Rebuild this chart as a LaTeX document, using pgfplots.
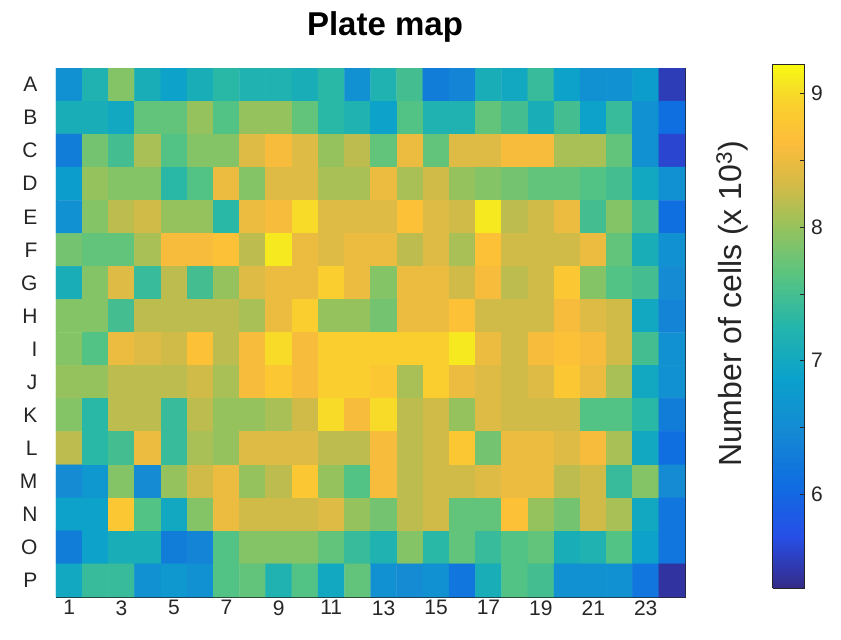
\documentclass[border=0pt]{standalone}
\usepackage{fontspec}
\setmainfont{Liberation Sans}
\usepackage{pgfplots}
\pgfplotsset{compat=1.18}
\definecolor{axgray}{rgb}{0.15,0.15,0.15}
\pgfplotsset{
  colormap={parula}{
    rgb(0pt)=(0.208,0.166,0.529)
    rgb(10pt)=(0.150,0.310,0.910)
    rgb(20pt)=(0.060,0.430,0.880)
    rgb(30pt)=(0.080,0.540,0.830)
    rgb(40pt)=(0.040,0.630,0.800)
    rgb(50pt)=(0.140,0.710,0.670)
    rgb(60pt)=(0.350,0.770,0.500)
    rgb(70pt)=(0.620,0.760,0.350)
    rgb(77pt)=(0.830,0.730,0.280)
    rgb(85pt)=(0.990,0.740,0.230)
    rgb(92pt)=(0.980,0.810,0.180)
    rgb(96pt)=(0.960,0.890,0.140)
    rgb(100pt)=(0.976,0.983,0.054)},
  every tick label/.append style={font=\fontsize{21}{25}\selectfont, text=axgray},
  /pgf/number format/assume math mode=true,
}
\begin{document}
\begin{tikzpicture}
\useasboundingbox (-56pt,-43pt) rectangle (785pt,597pt);
\begin{axis}[
  at={(0pt,0pt)}, anchor=south west,
  scale only axis, width=629pt, height=529pt,
  xmin=0.5, xmax=24.5, ymin=0.5, ymax=16.5,
  y dir=reverse,
  xtick={1,3,...,23},
  ytick={1,...,16},
  yticklabels={A,B,C,D,E,F,G,H,I,J,K,L,M,N,O,P},
  yticklabel style={xshift=-15pt},
  tick align=inside,
  major tick length=5pt,
  xtick pos=both, ytick pos=both,
  tick style={axgray, line width=0.6pt},
  axis line style={axgray, line width=0.8pt},
  colormap name=parula,
  point meta min=5.3, point meta max=9.22,
  colorbar sampled,
  colorbar style={
    samples=200,
    at={(parent axis.north east)}, anchor=north west,
    xshift=79pt, yshift=4pt,
    width=32pt, height=524pt,
    ytick={6,7,8,9}, minor ytick={6.5,7.5,8.5},
    tick align=inside,
    ytick pos=right,
    major tick length=5pt, minor tick length=5pt,
    tick style={axgray, line width=0.6pt},
    axis line style={axgray, line width=0.8pt},
    yticklabel style={xshift=3pt},
  },
]
\addplot[matrix plot*, mesh/cols=24, point meta=explicit] coordinates {
(1,1)[6.6] (2,1)[7.2] (3,1)[7.9] (4,1)[7.1] (5,1)[6.9] (6,1)[7.1] (7,1)[7.3] (8,1)[7.2] (9,1)[7.2] (10,1)[7.1] (11,1)[7.3] (12,1)[6.6] (13,1)[7.2] (14,1)[7.5] (15,1)[6.3] (16,1)[6.4] (17,1)[7.1] (18,1)[7.0] (19,1)[7.4] (20,1)[6.9] (21,1)[6.6] (22,1)[6.6] (23,1)[6.8] (24,1)[5.5]

(1,2)[7.1] (2,2)[7.1] (3,2)[7.0] (4,2)[7.7] (5,2)[7.7] (6,2)[8.0] (7,2)[7.6] (8,2)[8.0] (9,2)[8.0] (10,2)[7.7] (11,2)[7.3] (12,2)[7.2] (13,2)[6.9] (14,2)[7.6] (15,2)[7.2] (16,2)[7.2] (17,2)[7.7] (18,2)[7.5] (19,2)[7.1] (20,2)[7.5] (21,2)[6.9] (22,2)[7.4] (23,2)[6.6] (24,2)[6.1]

(1,3)[6.3] (2,3)[7.8] (3,3)[7.5] (4,3)[8.1] (5,3)[7.6] (6,3)[7.9] (7,3)[7.9] (8,3)[8.4] (9,3)[8.6] (10,3)[8.4] (11,3)[8.0] (12,3)[8.2] (13,3)[7.7] (14,3)[8.5] (15,3)[7.7] (16,3)[8.4] (17,3)[8.4] (18,3)[8.6] (19,3)[8.6] (20,3)[8.1] (21,3)[8.1] (22,3)[7.7] (23,3)[6.6] (24,3)[5.6]

(1,4)[6.8] (2,4)[8.0] (3,4)[7.9] (4,4)[7.9] (5,4)[7.3] (6,4)[7.6] (7,4)[8.5] (8,4)[7.9] (9,4)[8.4] (10,4)[8.4] (11,4)[8.1] (12,4)[8.1] (13,4)[8.5] (14,4)[8.1] (15,4)[8.3] (16,4)[8.0] (17,4)[7.9] (18,4)[7.8] (19,4)[7.7] (20,4)[7.7] (21,4)[7.6] (22,4)[7.5] (23,4)[7.0] (24,4)[6.6]

(1,5)[6.6] (2,5)[7.9] (3,5)[8.2] (4,5)[8.3] (5,5)[8.0] (6,5)[8.0] (7,5)[7.3] (8,5)[8.5] (9,5)[8.6] (10,5)[9.0] (11,5)[8.4] (12,5)[8.4] (13,5)[8.4] (14,5)[8.7] (15,5)[8.4] (16,5)[8.3] (17,5)[9.1] (18,5)[8.2] (19,5)[8.3] (20,5)[8.5] (21,5)[7.5] (22,5)[7.9] (23,5)[7.5] (24,5)[6.1]

(1,6)[7.8] (2,6)[7.7] (3,6)[7.7] (4,6)[8.1] (5,6)[8.6] (6,6)[8.6] (7,6)[8.7] (8,6)[8.2] (9,6)[9.1] (10,6)[8.5] (11,6)[8.4] (12,6)[8.5] (13,6)[8.5] (14,6)[8.2] (15,6)[8.4] (16,6)[8.1] (17,6)[8.7] (18,6)[8.3] (19,6)[8.3] (20,6)[8.3] (21,6)[8.5] (22,6)[7.7] (23,6)[7.1] (24,6)[6.6]

(1,7)[7.1] (2,7)[7.9] (3,7)[8.4] (4,7)[7.4] (5,7)[8.2] (6,7)[7.5] (7,7)[8.0] (8,7)[8.4] (9,7)[8.5] (10,7)[8.5] (11,7)[8.9] (12,7)[8.5] (13,7)[7.9] (14,7)[8.5] (15,7)[8.5] (16,7)[8.3] (17,7)[8.6] (18,7)[8.2] (19,7)[8.3] (20,7)[8.8] (21,7)[7.9] (22,7)[7.6] (23,7)[7.5] (24,7)[6.5]

(1,8)[7.9] (2,8)[7.9] (3,8)[7.5] (4,8)[8.2] (5,8)[8.2] (6,8)[8.2] (7,8)[8.2] (8,8)[8.1] (9,8)[8.5] (10,8)[8.9] (11,8)[8.0] (12,8)[8.0] (13,8)[7.8] (14,8)[8.5] (15,8)[8.5] (16,8)[8.7] (17,8)[8.3] (18,8)[8.3] (19,8)[8.3] (20,8)[8.6] (21,8)[8.4] (22,8)[8.3] (23,8)[7.0] (24,8)[6.4]

(1,9)[7.9] (2,9)[7.6] (3,9)[8.5] (4,9)[8.4] (5,9)[8.3] (6,9)[8.7] (7,9)[8.2] (8,9)[8.6] (9,9)[9.0] (10,9)[8.6] (11,9)[8.9] (12,9)[8.9] (13,9)[8.9] (14,9)[8.9] (15,9)[8.9] (16,9)[9.1] (17,9)[8.5] (18,9)[8.3] (19,9)[8.6] (20,9)[8.7] (21,9)[8.6] (22,9)[8.3] (23,9)[7.5] (24,9)[6.6]

(1,10)[8.0] (2,10)[8.0] (3,10)[8.2] (4,10)[8.2] (5,10)[8.2] (6,10)[8.3] (7,10)[8.1] (8,10)[8.6] (9,10)[8.8] (10,10)[8.6] (11,10)[8.9] (12,10)[8.9] (13,10)[8.8] (14,10)[8.1] (15,10)[8.9] (16,10)[8.5] (17,10)[8.4] (18,10)[8.3] (19,10)[8.4] (20,10)[8.8] (21,10)[8.5] (22,10)[8.1] (23,10)[7.0] (24,10)[6.6]

(1,11)[7.9] (2,11)[7.3] (3,11)[8.2] (4,11)[8.2] (5,11)[7.4] (6,11)[8.2] (7,11)[8.0] (8,11)[8.0] (9,11)[8.1] (10,11)[8.3] (11,11)[9.0] (12,11)[8.6] (13,11)[9.0] (14,11)[8.2] (15,11)[8.3] (16,11)[8.0] (17,11)[8.4] (18,11)[8.3] (19,11)[8.3] (20,11)[8.3] (21,11)[7.6] (22,11)[7.6] (23,11)[7.3] (24,11)[6.3]

(1,12)[8.2] (2,12)[7.3] (3,12)[7.5] (4,12)[8.5] (5,12)[7.4] (6,12)[8.1] (7,12)[8.0] (8,12)[8.4] (9,12)[8.4] (10,12)[8.4] (11,12)[8.2] (12,12)[8.2] (13,12)[8.6] (14,12)[8.2] (15,12)[8.3] (16,12)[8.8] (17,12)[7.8] (18,12)[8.5] (19,12)[8.5] (20,12)[8.4] (21,12)[8.6] (22,12)[8.1] (23,12)[7.0] (24,12)[6.1]

(1,13)[6.5] (2,13)[6.7] (3,13)[7.9] (4,13)[6.5] (5,13)[8.0] (6,13)[8.3] (7,13)[8.5] (8,13)[8.0] (9,13)[8.2] (10,13)[8.8] (11,13)[8.0] (12,13)[7.6] (13,13)[8.6] (14,13)[8.2] (15,13)[8.3] (16,13)[8.3] (17,13)[8.4] (18,13)[8.5] (19,13)[8.5] (20,13)[8.2] (21,13)[8.3] (22,13)[7.4] (23,13)[7.9] (24,13)[6.5]

(1,14)[6.9] (2,14)[6.9] (3,14)[8.8] (4,14)[7.6] (5,14)[7.0] (6,14)[7.9] (7,14)[8.5] (8,14)[8.3] (9,14)[8.3] (10,14)[8.3] (11,14)[8.4] (12,14)[8.0] (13,14)[7.8] (14,14)[8.2] (15,14)[8.3] (16,14)[7.7] (17,14)[7.7] (18,14)[8.7] (19,14)[8.0] (20,14)[7.8] (21,14)[8.3] (22,14)[8.1] (23,14)[7.0] (24,14)[6.2]

(1,15)[6.3] (2,15)[6.9] (3,15)[7.1] (4,15)[7.1] (5,15)[6.3] (6,15)[6.4] (7,15)[7.6] (8,15)[7.9] (9,15)[7.9] (10,15)[7.9] (11,15)[7.7] (12,15)[7.4] (13,15)[7.2] (14,15)[7.9] (15,15)[7.3] (16,15)[7.7] (17,15)[7.4] (18,15)[7.6] (19,15)[7.7] (20,15)[7.1] (21,15)[7.2] (22,15)[7.6] (23,15)[6.9] (24,15)[6.2]

(1,16)[7.0] (2,16)[7.4] (3,16)[7.4] (4,16)[6.6] (5,16)[6.7] (6,16)[6.6] (7,16)[7.6] (8,16)[7.7] (9,16)[7.2] (10,16)[7.6] (11,16)[7.0] (12,16)[7.7] (13,16)[6.6] (14,16)[6.5] (15,16)[6.6] (16,16)[6.2] (17,16)[7.1] (18,16)[7.6] (19,16)[7.5] (20,16)[6.6] (21,16)[6.6] (22,16)[6.6] (23,16)[6.2] (24,16)[5.4]
};
\end{axis}
\node[anchor=base, font=\bfseries\fontsize{33}{39}\selectfont] at (329pt,561pt) {Plate map};
\node[rotate=90, anchor=base, text=axgray, font=\fontsize{32}{38}\selectfont] at (685pt,293pt) {Number of cells (x 10\textsuperscript{3})};
\end{tikzpicture}
\end{document}
